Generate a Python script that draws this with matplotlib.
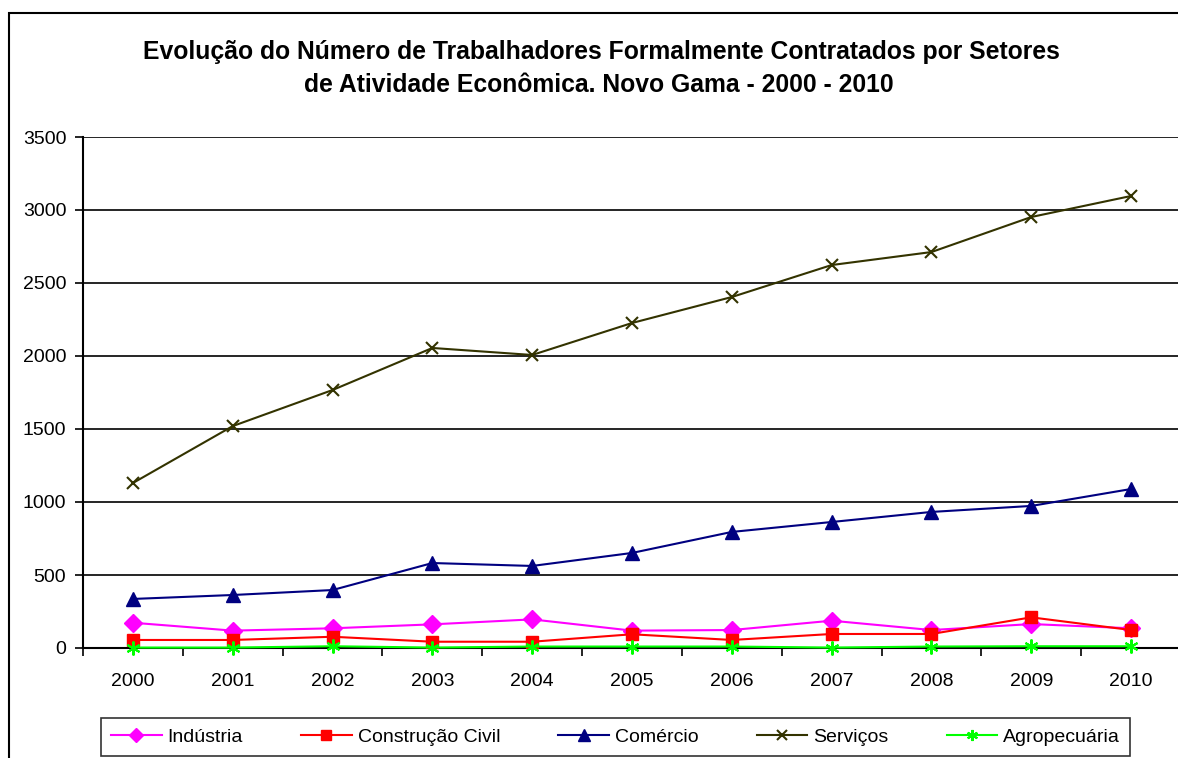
import matplotlib
matplotlib.use("Agg")
import matplotlib.pyplot as plt
from matplotlib.patches import Rectangle

plt.rcParams['font.family'] = ['Liberation Sans', 'DejaVu Sans']

anos = ['2000', '2001', '2002', '2003', '2004', '2005', '2006', '2007', '2008', '2009', '2010']
industria = [173, 119, 135, 162, 196, 119, 123, 187, 123, 164, 135]
construcao = [55, 55, 77, 43, 43, 94, 55, 96, 96, 210, 123]
comercio = [336, 363, 397, 582, 562, 651, 795, 863, 932, 973, 1089]
servicos = [1130, 1520, 1767, 2055, 2007, 2226, 2404, 2623, 2712, 2952, 3096]
agropecuaria = [3, 3, 12, 3, 10, 10, 10, 3, 10, 12, 12]

W, H = 1178, 758
fig = plt.figure(figsize=(W / 100, H / 100), dpi=100)

# outer chart border (cropped on right/bottom)
fig.patches.append(Rectangle((9 / W, -0.1), 1.2, 1 - 13 / H + 0.1, transform=fig.transFigure,
                             fill=False, edgecolor='black', linewidth=1.5))

ax = fig.add_axes([83 / W, 1 - 648 / H, (1181 - 83) / W, (648 - 137) / H])
x = list(range(len(anos)))

series = [
    ('Indústria', industria, '#FF00FF', 'D', 9),
    ('Construção Civil', construcao, '#FF0000', 's', 9),
    ('Comércio', comercio, '#000080', '^', 10),
    ('Serviços', servicos, '#333300', 'x', 9),
    ('Agropecuária', agropecuaria, '#00FF00', (6, 2, 0), 10),
]
for name, vals, col, mk, ms in series:
    ax.plot(x, vals, color=col, marker=mk, markersize=ms, linewidth=1.5,
            markeredgewidth=1.5 if mk in ('x', (6, 2, 0)) else 1,
            markeredgecolor=col, markerfacecolor=col, label=name, clip_on=False, zorder=3)

ax.set_xlim(-0.5, len(anos) - 0.5)
ax.set_ylim(0, 3500)
ax.set_yticks(range(0, 3501, 500))
ax.set_xticks(x)
ax.set_xticklabels(anos)
ax.set_xticks([i - 0.5 for i in range(len(anos) + 1)], minor=True)
ax.tick_params(axis='x', which='major', length=0, labelsize=14, pad=18)
ax.tick_params(axis='x', which='minor', length=6, width=1.2, direction='out')
ax.tick_params(axis='y', length=6, width=1.2, labelsize=14, pad=6)
ax.yaxis.grid(True, color='black', linewidth=1.2)
ax.set_axisbelow(True)
for s in ('top', 'right'):
    ax.spines[s].set_visible(False)
for s in ('left', 'bottom'):
    ax.spines[s].set_linewidth(1.5)

fig.text(601 / W, 1 - 52 / H, 'Evolução do Número de Trabalhadores Formalmente Contratados por Setores',
         ha='center', va='center', fontsize=17.8, fontweight='bold')
fig.text(599 / W, 1 - 85 / H, 'de Atividade Econômica. Novo Gama - 2000 - 2010',
         ha='center', va='center', fontsize=17.8, fontweight='bold')

leg = fig.legend(loc='center', bbox_to_anchor=(615.5 / W, 1 - 737 / H), ncol=5, fontsize=14,
                 frameon=True, fancybox=False, edgecolor='black', handlelength=2.6,
                 columnspacing=3.0, handletextpad=0.3, borderpad=0.5, markerscale=0.8)
leg.get_frame().set_linewidth(1.2)

fig.savefig('out.png', dpi=100)
